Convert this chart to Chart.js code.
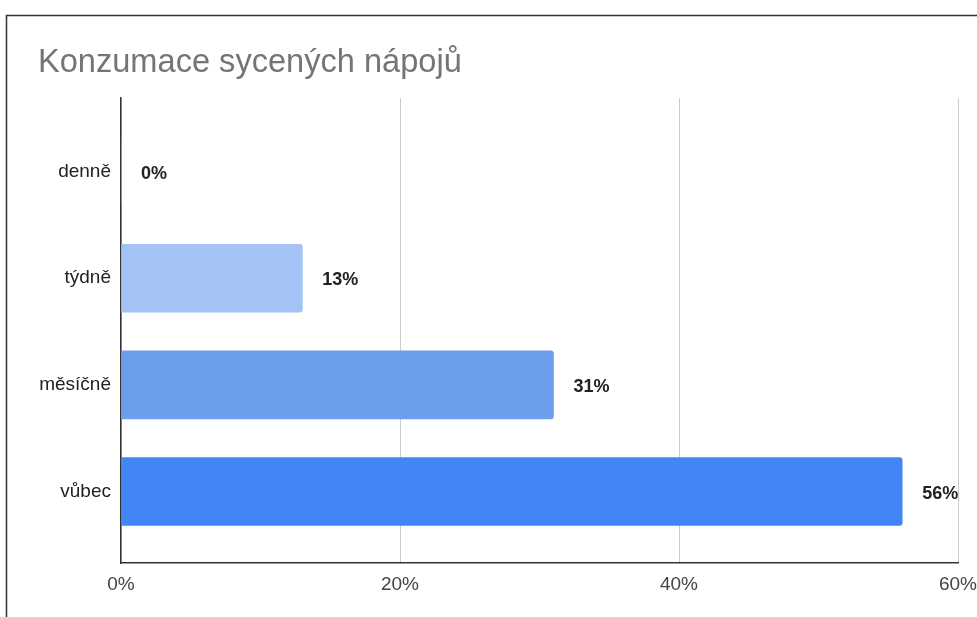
<!DOCTYPE html>
<html>
<head>
<meta charset="utf-8">
<script src="https://cdn.jsdelivr.net/npm/chart.js@4/dist/chart.umd.min.js"></script>
<style>
  html, body { margin: 0; padding: 0; background: #fff; }
  #wrap { position: relative; width: 977px; height: 617px; }
</style>
</head>
<body>
<div id="wrap"><canvas id="c" width="977" height="617"></canvas></div>
<script>
// Survey answers: how often carbonated drinks are consumed
const categories = ['denně', 'týdně', 'měsíčně', 'vůbec'];
const shares = [0, 13, 31, 56];            // percent of respondents
const barColors = ['#a4c2f4', '#a4c2f4', '#6d9eeb', '#4285f4'];
const xTicks = [0, 20, 40, 60];
const chartTitle = 'Konzumace sycených nápojů';

const FONT = '"Liberation Sans", Arial, sans-serif';

// Frame, title and value labels next to the bars
const decor = {
  id: 'decor',
  beforeDraw(chart) {
    const ctx = chart.ctx;
    ctx.save();
    ctx.fillStyle = '#fff';
    ctx.fillRect(0, 0, chart.width, chart.height);
    ctx.strokeStyle = '#333';
    ctx.lineWidth = 1.5;
    ctx.beginPath();
    ctx.moveTo(6.5, chart.height);
    ctx.lineTo(6.5, 15.5);
    ctx.lineTo(chart.width, 15.5);
    ctx.stroke();
    ctx.fillStyle = '#757575';
    ctx.font = '400 32.6px ' + FONT;
    ctx.textBaseline = 'alphabetic';
    ctx.textAlign = 'left';
    ctx.fillText(chartTitle, 38, 72);
    ctx.restore();
  },
  afterDatasetsDraw(chart) {
    const ctx = chart.ctx;
    const meta = chart.getDatasetMeta(0);
    ctx.save();
    ctx.fillStyle = '#222';
    ctx.font = '700 18px ' + FONT;
    ctx.textAlign = 'left';
    ctx.textBaseline = 'middle';
    meta.data.forEach((bar, i) => {
      ctx.fillText(shares[i] + '%', bar.x + 20, bar.y + 2);
    });
    ctx.restore();
  }
};

new Chart(document.getElementById('c'), {
  type: 'bar',
  data: {
    datasets: [{
      data: shares.map((v, i) => ({ x: v, y: i })),
      backgroundColor: barColors,
      borderWidth: 0,
      borderRadius: 3,
      barThickness: 68
    }]
  },
  options: {
    indexAxis: 'y',
    responsive: false,
    animation: false,
    events: [],
    layout: { padding: { left: 0, top: 98, right: 19, bottom: 0 } },
    plugins: { legend: { display: false }, tooltip: { enabled: false } },
    scales: {
      x: {
        type: 'linear',
        min: 0,
        max: 60,
        afterBuildTicks(scale) { scale.ticks = xTicks.map(v => ({ value: v })); },
        afterFit(scale) { scale.height = 54; scale.paddingLeft = 0; scale.paddingRight = 0; },
        ticks: {
          callback: v => v + '%',
          color: '#444',
          font: { family: FONT, size: 19 },
          padding: 10,
          maxRotation: 0
        },
        grid: { color: '#cccccc', lineWidth: 1, drawTicks: false },
        border: { display: true, color: '#333', width: 1.5 }
      },
      y: {
        type: 'linear',
        reverse: true,
        offset: false,
        bounds: 'data',
        min: -0.69,
        max: 3.67,
        afterBuildTicks(scale) { scale.ticks = categories.map((c, i) => ({ value: i })); },
        afterFit(scale) { scale.width = 121; scale.paddingTop = 0; scale.paddingBottom = 0; },
        ticks: {
          callback: v => categories[v],
          color: '#222',
          font: { family: FONT, size: 19 },
          padding: 10
        },
        grid: { display: false, drawTicks: false, offset: false },
        border: { display: true, color: '#333', width: 1.5 }
      }
    }
  },
  plugins: [decor]
});
</script>
</body>
</html>
